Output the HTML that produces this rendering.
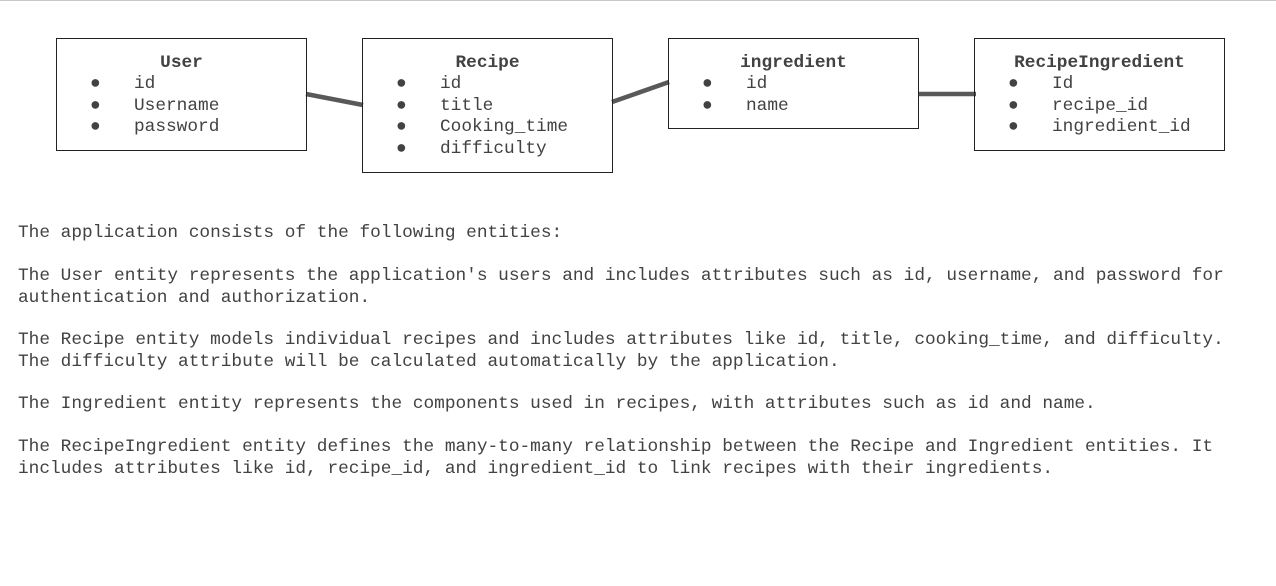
<!DOCTYPE html>
<html><head><meta charset="utf-8"><style>
body{margin:0;width:1276px;height:586px;background:#fff;position:relative;overflow:hidden;font-family:"Liberation Mono","DejaVu Sans Mono",monospace;font-size:17.8px;color:#424242}
.top{position:absolute;left:0;top:0;width:1276px;height:1px;background:#c8c8c8}
.box{position:absolute;border:1.5px solid #222;box-sizing:border-box;width:251px}
.t{position:absolute;top:14px;left:0;width:100%;text-align:center;font-weight:bold;line-height:21.5px}
.l{position:absolute;left:0;white-space:pre;line-height:21.5px}
.b{position:absolute;left:33px}
.v{position:absolute;left:77px}
.p{position:absolute;left:18px;white-space:pre;line-height:21.5px}
</style></head><body>
<div class="top"></div>
<svg style="position:absolute;left:0;top:0" width="1276" height="586">
<g stroke="#595959" stroke-width="4.5">
<line x1="306" y1="94" x2="363" y2="105"/>
<line x1="612" y1="102" x2="669" y2="82"/>
<line x1="918" y1="94" x2="976" y2="94"/>
</g></svg>

<div class="box" style="left:56px;top:38px;height:113px">
<div class="t">User</div>
<div class="l" style="top:35px"><span class="b">●</span><span class="v">id</span></div>
<div class="l" style="top:57px"><span class="b">●</span><span class="v">Username</span></div>
<div class="l" style="top:78px"><span class="b">●</span><span class="v">password</span></div>
</div>
<div class="box" style="left:362px;top:38px;height:135px">
<div class="t">Recipe</div>
<div class="l" style="top:35px"><span class="b">●</span><span class="v">id</span></div>
<div class="l" style="top:57px"><span class="b">●</span><span class="v">title</span></div>
<div class="l" style="top:78px"><span class="b">●</span><span class="v">Cooking_time</span></div>
<div class="l" style="top:100px"><span class="b">●</span><span class="v">difficulty</span></div>
</div>
<div class="box" style="left:668px;top:38px;height:91px">
<div class="t">ingredient</div>
<div class="l" style="top:35px"><span class="b">●</span><span class="v">id</span></div>
<div class="l" style="top:57px"><span class="b">●</span><span class="v">name</span></div>
</div>
<div class="box" style="left:974px;top:38px;height:113px">
<div class="t">RecipeIngredient</div>
<div class="l" style="top:35px"><span class="b">●</span><span class="v">Id</span></div>
<div class="l" style="top:57px"><span class="b">●</span><span class="v">recipe_id</span></div>
<div class="l" style="top:78px"><span class="b">●</span><span class="v">ingredient_id</span></div>
</div>

<div class="p" style="top:223px">The application consists of the following entities:</div>
<div class="p" style="top:266px">The User entity represents the application's users and includes attributes such as id, username, and password for
authentication and authorization.</div>
<div class="p" style="top:330px">The Recipe entity models individual recipes and includes attributes like id, title, cooking_time, and difficulty.
The difficulty attribute will be calculated automatically by the application.</div>
<div class="p" style="top:394px">The Ingredient entity represents the components used in recipes, with attributes such as id and name.</div>
<div class="p" style="top:437px">The RecipeIngredient entity defines the many-to-many relationship between the Recipe and Ingredient entities. It
includes attributes like id, recipe_id, and ingredient_id to link recipes with their ingredients.</div>
</body></html>
